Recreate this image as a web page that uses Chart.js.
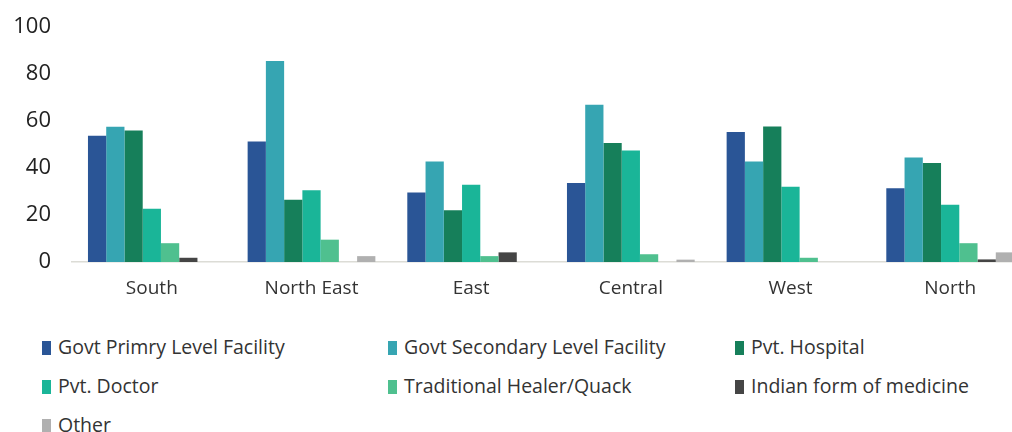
<!DOCTYPE html>
<html>
<head>
<meta charset="utf-8">
<script src="https://cdn.jsdelivr.net/npm/chart.js@4"></script>
<style>
  html, body { margin: 0; padding: 0; background: #fff; overflow: hidden; }
  body { width: 1012px; height: 432px; position: relative; font-family: "Open Sans", sans-serif; }
  #wrap { position: absolute; left: 0; top: 0; width: 1030px; height: 312px; }
  .item { position: absolute; font-size: 19.5px; color: #333; line-height: 22px; white-space: nowrap; }
  .item span.box { display: inline-block; width: 9px; height: 14px; margin-right: 7px; vertical-align: -1px; }
</style>
</head>
<body>
<div id="wrap"><canvas id="myChart"></canvas></div>
<div id="legend"></div>
<script>
const regions = ['South', 'North East', 'East', 'Central', 'West', 'North'];
const seriesNames = ['Govt Primry Level Facility', 'Govt Secondary Level Facility', 'Pvt. Hospital',
    'Pvt. Doctor', 'Traditional Healer/Quack', 'Indian form of medicine', 'Other'];
const govtPrimary = [53.7, 51.3, 29.6, 33.6, 55.3, 31.4];
const govtSecondary = [57.6, 85.5, 42.8, 66.9, 42.8, 44.5];
const pvtHospital = [56.0, 26.5, 22.0, 50.6, 57.7, 42.1];
const pvtDoctor = [22.7, 30.5, 32.9, 47.5, 32.0, 24.4];
const traditional = [8.0, 9.5, 2.5, 3.3, 1.8, 8.0];
const indianMedicine = [1.8, 0, 4.1, 0, 0, 1.1];
const other = [0, 2.5, 0, 1.0, 0, 4.1];
const yTicks = [0, 20, 40, 60, 80, 100];

const colors = ['#2A5596', '#36A5B2', '#167F5A', '#1AB598', '#4FC08F', '#454545', '#B0B0B0'];
const allValues = [govtPrimary, govtSecondary, pvtHospital, pvtDoctor, traditional, indianMedicine, other];

chartGraph();

function chartGraph() {
    const ctx = document.getElementById('myChart').getContext('2d');
    const chartData = {
        labels: regions,
        datasets: seriesNames.map((name, i) => ({
            label: name,
            data: allValues[i],
            backgroundColor: colors[i],
            borderWidth: 0,
            categoryPercentage: 0.8,
            barPercentage: 1.0
        }))
    };
    new Chart(ctx, {
        type: 'bar',
        data: chartData,
        options: {
            responsive: true,
            maintainAspectRatio: false,
            animation: false,
            layout: { padding: { top: 27, right: 0, left: 0, bottom: 0 } },
            plugins: { legend: { display: false }, tooltip: { enabled: false } },
            scales: {
                x: {
                    grid: { display: false, drawTicks: false },
                    border: { display: true, color: '#dcdcd6', width: 1.5 },
                    ticks: { color: '#333', font: { family: 'Open Sans', size: 19 }, padding: 15, maxRotation: 0 },
                    afterFit: s => { s.height = 50; }
                },
                y: {
                    min: 0,
                    max: 100,
                    afterBuildTicks: s => { s.ticks = yTicks.map(v => ({ value: v })); },
                    grid: { display: false, drawTicks: false },
                    border: { display: false },
                    ticks: { color: '#222', font: { family: 'Open Sans', size: 22 }, padding: 21 },
                    afterFit: s => { s.width = 72; s.paddingTop = 0; s.paddingBottom = 0; }
                }
            }
        }
    });
    buildLegend();
}

function buildLegend() {
    const legend = document.getElementById('legend');
    const lefts = [42, 388, 735];
    const tops = [336, 375, 414];
    seriesNames.forEach((name, i) => {
        const el = document.createElement('div');
        el.className = 'item';
        el.style.left = lefts[i % 3] + 'px';
        el.style.top = tops[Math.floor(i / 3)] + 'px';
        el.innerHTML = '<span class="box" style="background:' + colors[i] + '"></span>' + name;
        legend.appendChild(el);
    });
}
</script>
</body>
</html>
